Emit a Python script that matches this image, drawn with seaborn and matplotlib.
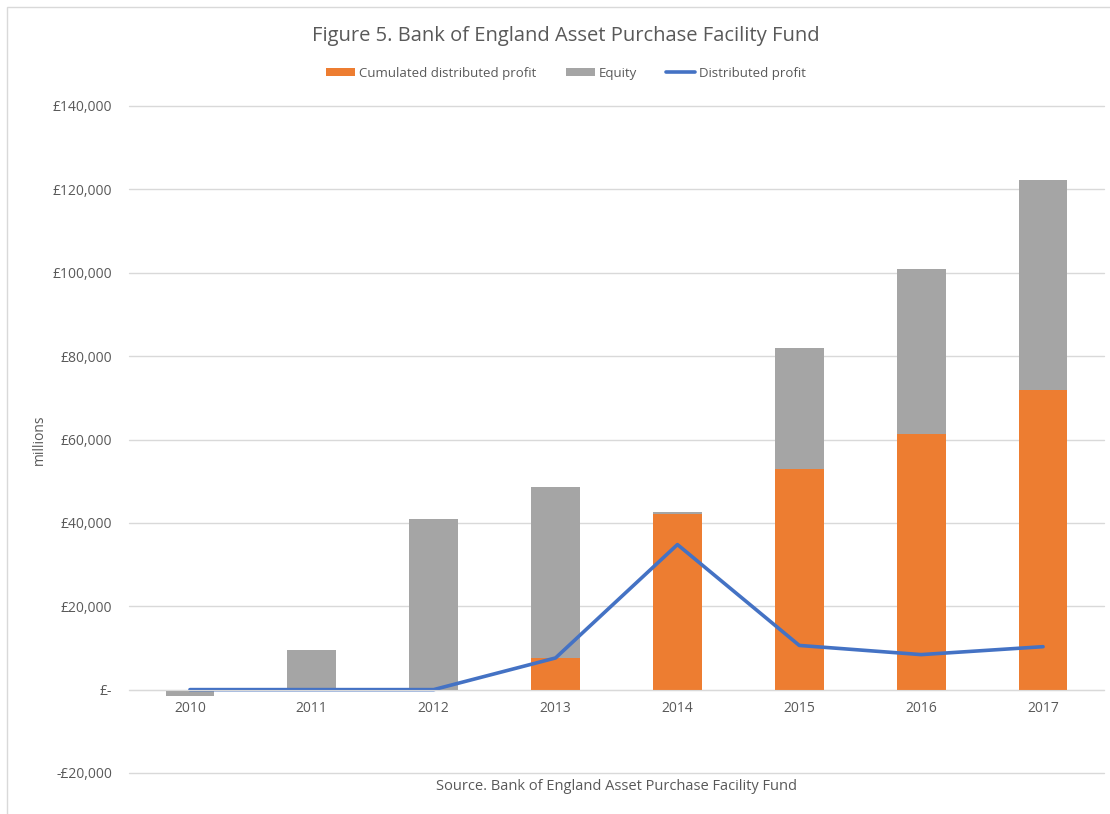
import numpy as np
import pandas as pd
import seaborn as sns
import matplotlib.pyplot as plt
from matplotlib.patches import Patch, Rectangle
from matplotlib.lines import Line2D
from matplotlib.ticker import FuncFormatter

# data (GBP millions)
years = ["2010", "2011", "2012", "2013", "2014", "2015", "2016", "2017"]
cumulated = [0, 0, 0, 7600, 42200, 53000, 61400, 71900]
equity = [-1500, 9600, 41000, 41100, 500, 29000, 39500, 50400]
distributed = [0, 0, 0, 7600, 34800, 10600, 8400, 10300]

orange = "#ED7D31"
grey = "#A5A5A5"
blue = "#4472C4"
txt = "#595959"

df = pd.DataFrame({"year": years, "cum": cumulated, "eq": equity, "dist": distributed})
df["total"] = df["cum"] + df["eq"]

sns.set_style("white")
plt.rcParams["font.family"] = ["Open Sans", "DejaVu Sans"]

fig = plt.figure(figsize=(11.1, 8.14), dpi=100)
ax = fig.add_axes([129 / 1110, 41 / 814, 975 / 1110, 667 / 814])

# stacked bars: grey total behind, orange cumulated in front
sns.barplot(data=df, x="year", y="total", color=grey, width=0.4, saturation=1,
            linewidth=0, ax=ax)
sns.barplot(data=df, x="year", y="cum", color=orange, width=0.4, saturation=1,
            linewidth=0, ax=ax)
sns.lineplot(x=np.arange(len(years)), y=df["dist"], color=blue, linewidth=2.6, ax=ax)

ax.set_ylim(-20000, 140000)
ax.set_xlim(-0.5, len(years) - 0.5)
ax.set_yticks(np.arange(-20000, 140001, 20000))


def money(v, pos):
    if v == 0:
        return "£-"
    s = f"£{abs(v):,.0f}"
    return "-" + s if v < 0 else s


ax.yaxis.set_major_formatter(FuncFormatter(money))
ax.yaxis.grid(True, color="#d9d9d9", linewidth=1)
for gl in ax.get_ygridlines():
    gl.set_clip_on(False)
ax.set_axisbelow(True)
for s in ["top", "right", "left"]:
    ax.spines[s].set_visible(False)
ax.spines["bottom"].set_position(("data", 0))
ax.spines["bottom"].set_color("#d9d9d9")
ax.tick_params(axis="both", length=0, colors=txt, labelsize=10)
ax.tick_params(axis="x", pad=8)
ax.tick_params(axis="y", pad=12)

ax.set_ylabel("millions", color=txt, fontsize=10, labelpad=4)
ax.set_xlabel("")
fig.text(616 / 1110, 1 - 787 / 814, "Source. Bank of England Asset Purchase Facility Fund",
         ha="center", va="center", color=txt, fontsize=10.5)

fig.text(566 / 1110, 1 - 36 / 814, "Figure 5. Bank of England Asset Purchase Facility Fund",
         ha="center", va="center", color=txt, fontsize=14.5)

handles = [
    Patch(facecolor=orange, edgecolor="none", label="Cumulated distributed profit"),
    Patch(facecolor=grey, edgecolor="none", label="Equity"),
    Line2D([0], [0], color=blue, linewidth=2.6, label="Distributed profit"),
]
fig.legend(handles=handles, loc="center", bbox_to_anchor=(566 / 1110, 1 - 73 / 814), ncol=3,
           frameon=False, fontsize=9.5, labelcolor=txt, handlelength=2.2, handleheight=0.5,
           handletextpad=0.3, columnspacing=2.2)

# chart frame
fig.add_artist(Rectangle((7 / 1110, -0.05), 1.2, 1.05 - 7 / 814, transform=fig.transFigure,
                         fill=False, edgecolor="#d9d9d9", linewidth=1))

fig.savefig("out.png", dpi=100)
